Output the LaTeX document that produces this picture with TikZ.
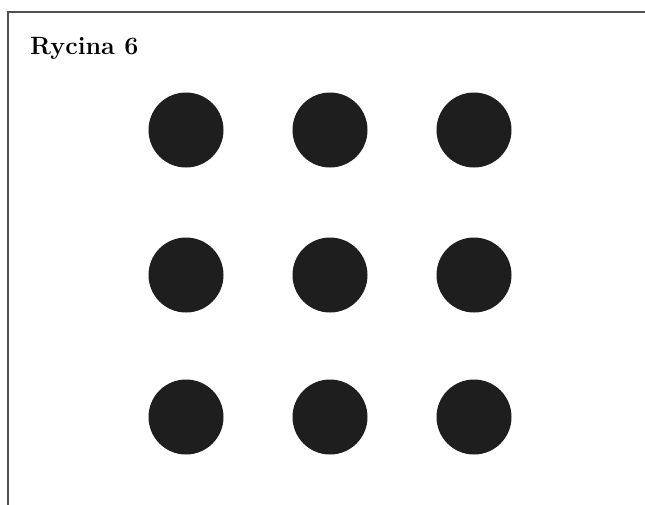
\documentclass[tikz,border=0pt]{standalone}
\begin{document}
\begin{tikzpicture}[x=1pt,y=-1pt,
  dot/.style={circle,fill=dotcol,draw=none,minimum size=75pt,inner sep=0pt},
  frameline/.style={draw=framecol,line width=2.4pt}]
\definecolor{dotcol}{HTML}{1E1E1E}
\definecolor{framecol}{HTML}{505050}
\useasboundingbox (0,0) rectangle (645,504);
\fill[white] (0,0) rectangle (645,504);
\draw[frameline] (8,506) -- (8,12) -- (647,12);
\node[anchor=base west,inner sep=0pt,font=\fontsize{25}{29}\selectfont\bfseries] (title) at (30,54) {Rycina 6};
\foreach \r/\y in {1/130,2/275,3/417}{
  \foreach \c/\x in {1/186,2/330,3/474}{
    \node[dot] (d\r\c) at (\x,\y) {};
  }
}
\end{tikzpicture}
\end{document}
